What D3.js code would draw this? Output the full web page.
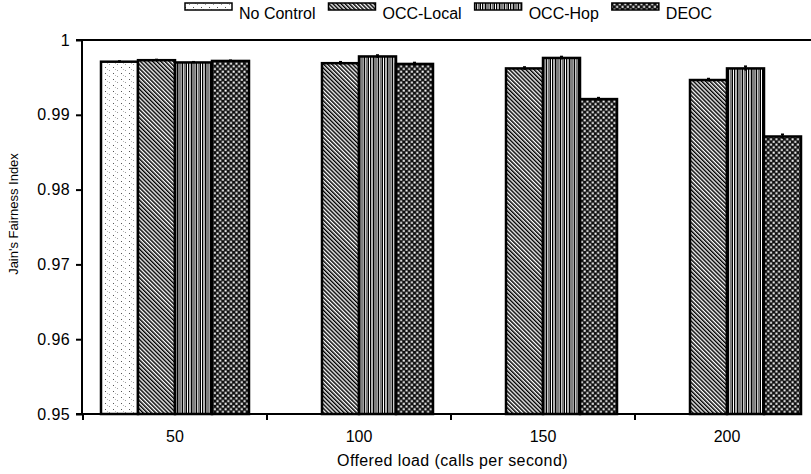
<!DOCTYPE html>
<html>
<head>
<meta charset="utf-8">
<script src="https://cdn.jsdelivr.net/npm/d3@7/dist/d3.min.js"></script>
<style>
  html, body { margin: 0; padding: 0; background: #fff; }
  svg { display: block; }
  text { font-family: "Liberation Sans", Arial, Helvetica, sans-serif; fill: #000; }
</style>
</head>
<body>
<svg id="chart" width="811" height="474"></svg>
<script>
// ---- data ----
const categories = ["50", "100", "150", "200"];
const seriesNames = ["No Control", "OCC-Local", "OCC-Hop", "DEOC"];
const noControl = [0.9971, null, null, null];
const occLocal  = [0.9973, 0.9969, 0.9962, 0.99465];
const occHop    = [0.9970, 0.9978, 0.9976, 0.9962];
const deoc      = [0.9972, 0.9968, 0.9921, 0.9871];
const errNoControl = [0.0001, null, null, null];
const errLocal  = [0.0001, 0.0002, 0.0002, 0.0002];
const errHop    = [0.0001, 0.0002, 0.0002, 0.0003];
const errDeoc   = [0.0001, 0.0002, 0.0002, 0.0003];
const yTicks = [0.95, 0.96, 0.97, 0.98, 0.99, 1];
const yTickLabels = ["0.95", "0.96", "0.97", "0.98", "0.99", "1"];

const values = [noControl, occLocal, occHop, deoc];
const errors = [errNoControl, errLocal, errHop, errDeoc];
const patternIds = ["pNo", "pLocal", "pHop", "pDeoc"];

const svg = d3.select("#chart");
const margin = { left: 82, top: 40, bottom: 414, right: 819 };

const x = d3.scaleBand().domain(categories).range([margin.left + 1, margin.right]).paddingInner(0).paddingOuter(0);
const xs = d3.scaleBand().domain(seriesNames).range([18, x.bandwidth() - 18]).padding(0);
const y = d3.scaleLinear().domain([0.95, 1]).range([margin.bottom, margin.top]);

// ---- patterns ----
const defs = svg.append("defs");
const pNo = defs.append("pattern").attr("id", "pNo").attr("patternUnits", "userSpaceOnUse")
  .attr("width", 8).attr("height", 6);
pNo.append("rect").attr("width", 8).attr("height", 6).attr("fill", "#fff");
pNo.append("rect").attr("x", 1).attr("y", 1).attr("width", 1).attr("height", 1).attr("fill", "#555");
pNo.append("rect").attr("x", 5).attr("y", 4).attr("width", 1).attr("height", 1).attr("fill", "#999");
pNo.append("rect").attr("x", 3).attr("y", 3).attr("width", 1).attr("height", 1).attr("fill", "#bbb");

const pLocal = defs.append("pattern").attr("id", "pLocal").attr("patternUnits", "userSpaceOnUse")
  .attr("width", 2.9).attr("height", 10).attr("patternTransform", "rotate(-45)");
pLocal.append("rect").attr("width", 2.9).attr("height", 10).attr("fill", "#fff");
pLocal.append("rect").attr("width", 1.5).attr("height", 10).attr("fill", "#000");

const pHop = defs.append("pattern").attr("id", "pHop").attr("patternUnits", "userSpaceOnUse")
  .attr("width", 14).attr("height", 10);
pHop.append("rect").attr("width", 14).attr("height", 10).attr("fill", "#fff");
[[0, 1.2, "#000"], [2, 1, "#777"], [3.5, 1.5, "#000"], [6, 1, "#000"], [7.5, 1, "#666"],
 [9, 1.5, "#000"], [11.5, 1, "#000"], [13, 0.8, "#888"]].forEach(([px, w, c]) => {
  pHop.append("rect").attr("x", px).attr("y", 0).attr("width", w).attr("height", 10).attr("fill", c);
});

const pDeoc = defs.append("pattern").attr("id", "pDeoc").attr("patternUnits", "userSpaceOnUse")
  .attr("width", 5.4).attr("height", 5.4);
pDeoc.append("rect").attr("width", 5.4).attr("height", 5.4).attr("fill", "#111");
pDeoc.append("rect").attr("x", 0.5).attr("y", 0.5).attr("width", 2).attr("height", 2).attr("fill", "#fff");
pDeoc.append("rect").attr("x", 3.2).attr("y", 3.2).attr("width", 2).attr("height", 2).attr("fill", "#fff");

// ---- bars ----
const barData = [];
categories.forEach((c, ci) => {
  seriesNames.forEach((s, si) => {
    const v = values[si][ci];
    if (v != null) barData.push({ c, s, si, v, e: errors[si][ci] });
  });
});

const gBars = svg.append("g");
gBars.selectAll("rect.bar").data(barData).join("rect")
  .attr("class", "bar")
  .attr("x", d => x(d.c) + xs(d.s))
  .attr("y", d => y(d.v))
  .attr("width", xs.bandwidth())
  .attr("height", d => y(0.95) - y(d.v))
  .attr("fill", d => `url(#${patternIds[d.si]})`)
  .attr("stroke", "#000")
  .attr("stroke-width", 2.5);

const gErr = svg.append("g");
gErr.selectAll("line.err").data(barData.filter(d => d.e != null)).join("line")
  .attr("x1", d => x(d.c) + xs(d.s) + xs.bandwidth() / 2)
  .attr("x2", d => x(d.c) + xs(d.s) + xs.bandwidth() / 2)
  .attr("y1", d => y(d.v - d.e))
  .attr("y2", d => y(d.v + d.e))
  .attr("stroke", "#000").attr("stroke-width", 2);
gErr.selectAll("line.cap").data(barData.filter(d => d.e != null)).join("line")
  .attr("x1", d => x(d.c) + xs(d.s) + xs.bandwidth() / 2 - 1.5)
  .attr("x2", d => x(d.c) + xs(d.s) + xs.bandwidth() / 2 + 1.5)
  .attr("y1", d => y(d.v + d.e))
  .attr("y2", d => y(d.v + d.e))
  .attr("stroke", "#000").attr("stroke-width", 1.5);

// ---- axes ----
const axisColor = "#000";
svg.append("line")
  .attr("x1", margin.left - 6).attr("x2", 811)
  .attr("y1", y(1)).attr("y2", y(1))
  .attr("stroke", axisColor).attr("stroke-width", 2);

const yAxis = d3.axisLeft(y).tickValues(yTicks).tickFormat((d, i) => yTickLabels[i]).tickSize(6).tickPadding(6);
const gy = svg.append("g").attr("transform", `translate(${margin.left},0)`).call(yAxis);
gy.select(".domain").attr("stroke", axisColor).attr("stroke-width", 2).attr("d", `M0,${y(1)}V${y(0.95)}`);
gy.selectAll(".tick line").attr("stroke", axisColor).attr("stroke-width", 2);
gy.selectAll(".tick text").attr("font-size", 16).attr("letter-spacing", 0.4)
  .attr("font-family", "Liberation Sans, Arial, sans-serif").attr("fill", "#000");

const lastEnd = x(categories[categories.length - 1]) + xs.range()[1];
svg.append("line")
  .attr("x1", margin.left - 6).attr("x2", lastEnd)
  .attr("y1", y(0.95)).attr("y2", y(0.95))
  .attr("stroke", axisColor).attr("stroke-width", 2);
const boundaries = categories.map(c => x(c));
svg.selectAll("line.xtick").data(boundaries).join("line")
  .attr("x1", d => d).attr("x2", d => d)
  .attr("y1", y(0.95)).attr("y2", y(0.95) + 6)
  .attr("stroke", axisColor).attr("stroke-width", 2);
svg.selectAll("text.xlab").data(categories).join("text")
  .attr("x", d => x(d) + x.bandwidth() / 2)
  .attr("y", y(0.95) + 28)
  .attr("text-anchor", "middle")
  .attr("font-size", 16)
  .text(d => d);

svg.append("text")
  .attr("x", (margin.left + margin.right) / 2 + 2)
  .attr("y", 466)
  .attr("text-anchor", "middle")
  .attr("font-size", 16)
  .attr("letter-spacing", 0.4)
  .text("Offered load (calls per second)");

svg.append("text")
  .attr("transform", `translate(18,214) rotate(-90)`)
  .attr("text-anchor", "middle")
  .attr("font-size", 13)
  .text("Jain's Fairness Index");

// ---- legend ----
const legend = svg.append("g");
let lx = 185;
seriesNames.forEach((s, i) => {
  legend.append("rect")
    .attr("x", lx).attr("y", 3)
    .attr("width", 47).attr("height", 7)
    .attr("fill", `url(#${patternIds[i]})`)
    .attr("stroke", "#000").attr("stroke-width", 1.5);
  const t = legend.append("text")
    .attr("x", lx + 54).attr("y", 19)
    .attr("font-size", 16)
    .text(s);
  lx = lx + 54 + t.node().getComputedTextLength() + 13;
});
</script>
</body>
</html>
